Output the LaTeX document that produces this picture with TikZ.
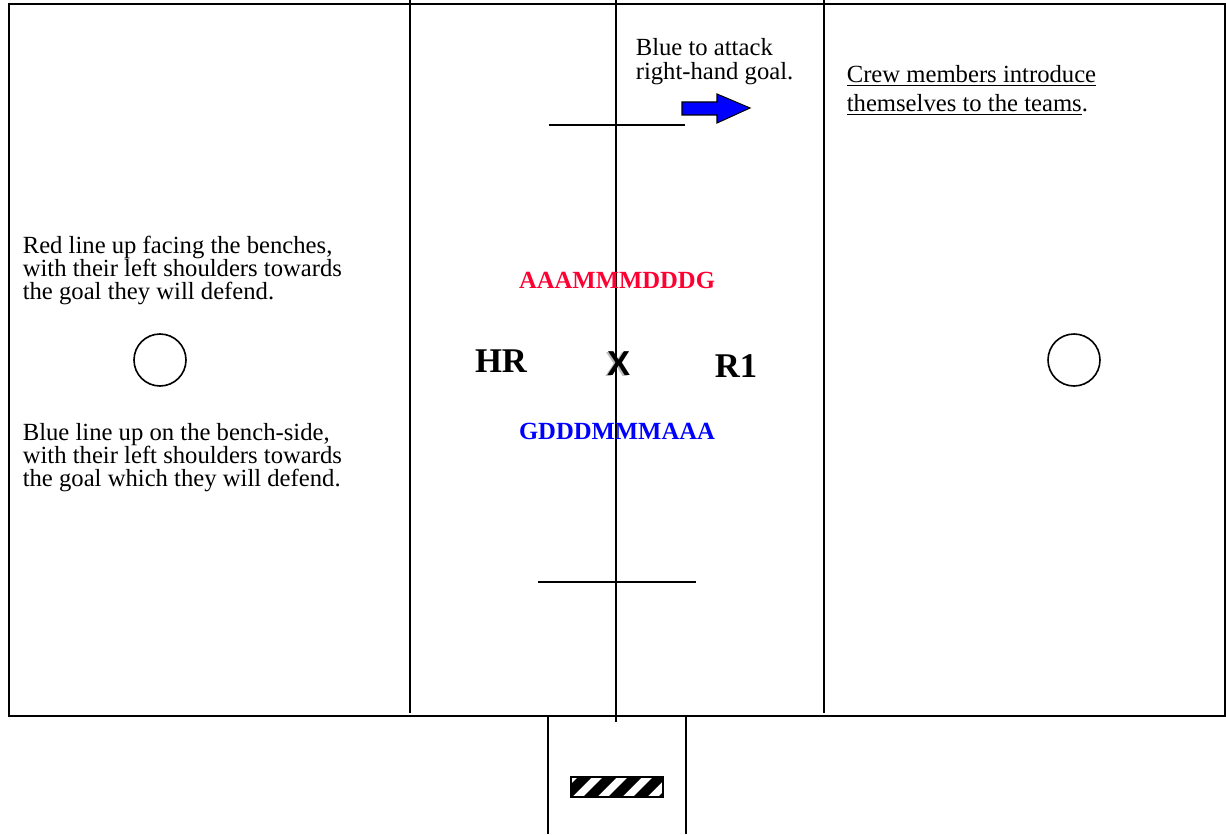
\documentclass[tikz,border=0pt]{standalone}
\usepackage{fontspec}
\setmainfont{Liberation Serif}
\newfontfamily\crossfont{Liberation Sans}
\usetikzlibrary{arrows.meta}

\begin{document}
\begin{tikzpicture}[x=0.75pt,y=-0.75pt,line width=1.2pt,
  note/.style={align=left,inner sep=0pt,anchor=base west,font=\fontsize{18.5}{17.2}\selectfont},
  spot/.style={circle,draw,minimum size=39pt,inner sep=0pt},
  team/.style={inner sep=0pt,font=\fontsize{18.5}{22}\selectfont\bfseries},
  crew/.style={inner sep=0pt,font=\fontsize{26}{30}\selectfont\bfseries}]
\useasboundingbox (0,0) rectangle (1226,834);
\definecolor{redteam}{RGB}{255,0,51}
% field
\draw (9,4) rectangle (1225,716);
\draw (410,0)--(410,713) (616,0)--(616,722) (824,0)--(824,713);
\draw[line width=2pt] (410,123)--(410,137) (410,583)--(410,648);
\draw (549,125)--(685,125) (538,582)--(696,582);
% bench box
\draw (548,716)--(548,834) (686,716)--(686,834);
\begin{scope}
\clip (571,777) rectangle (663,797);
\foreach \s in {0,...,5}{\fill (558+25*\s,797)--(572+25*\s,797)--(592+25*\s,777)--(578+25*\s,777)--cycle;}
\end{scope}
\draw[line width=0.8pt] (571,777) rectangle (663,797);
% circles
\node[spot] (lspot) at (160,360) {};
\node[spot] (rspot) at (1074,360) {};
% arrow
\draw[fill=blue,line width=0.8pt] (682,102)--(717,102)--(717,94)--(750,108)--(717,123)--(717,115)--(682,115)--cycle;
% texts
\node[note,font=\fontsize{18.5}{18}\selectfont] (attack) at (635,80) {Blue to attack\\right-hand goal.};
\node[note,font=\fontsize{18.5}{22}\selectfont] (intro) at (846,112) {\underline{Crew members introduce}\\\underline{themselves to the teams}.};
\node[note] (redline) at (22,299) {Red line up facing the benches,\\with their left shoulders towards\\the goal they will defend.};
\node[note] (blueline) at (22,486) {Blue line up on the bench-side,\\with their left shoulders towards\\the goal which they will defend.};
\node[team,text=redteam] (red) at (617,280) {AAAMMMDDDG};
\node[team,text=blue] (blue) at (617,431) {GDDDMMMAAA};
\node[crew] (hr) at (501,361) {HR};
\node[crew] (r1) at (736,366) {R1};
\node[crew,font=\fontsize{26}{30}\selectfont\crossfont\bfseries,text=black!45,opacity=0.6] (xshade) at (617,365) {X};
\node[crew,font=\fontsize{26}{30}\selectfont\crossfont\bfseries] (x) at (619,364) {X};
\end{tikzpicture}
\end{document}
